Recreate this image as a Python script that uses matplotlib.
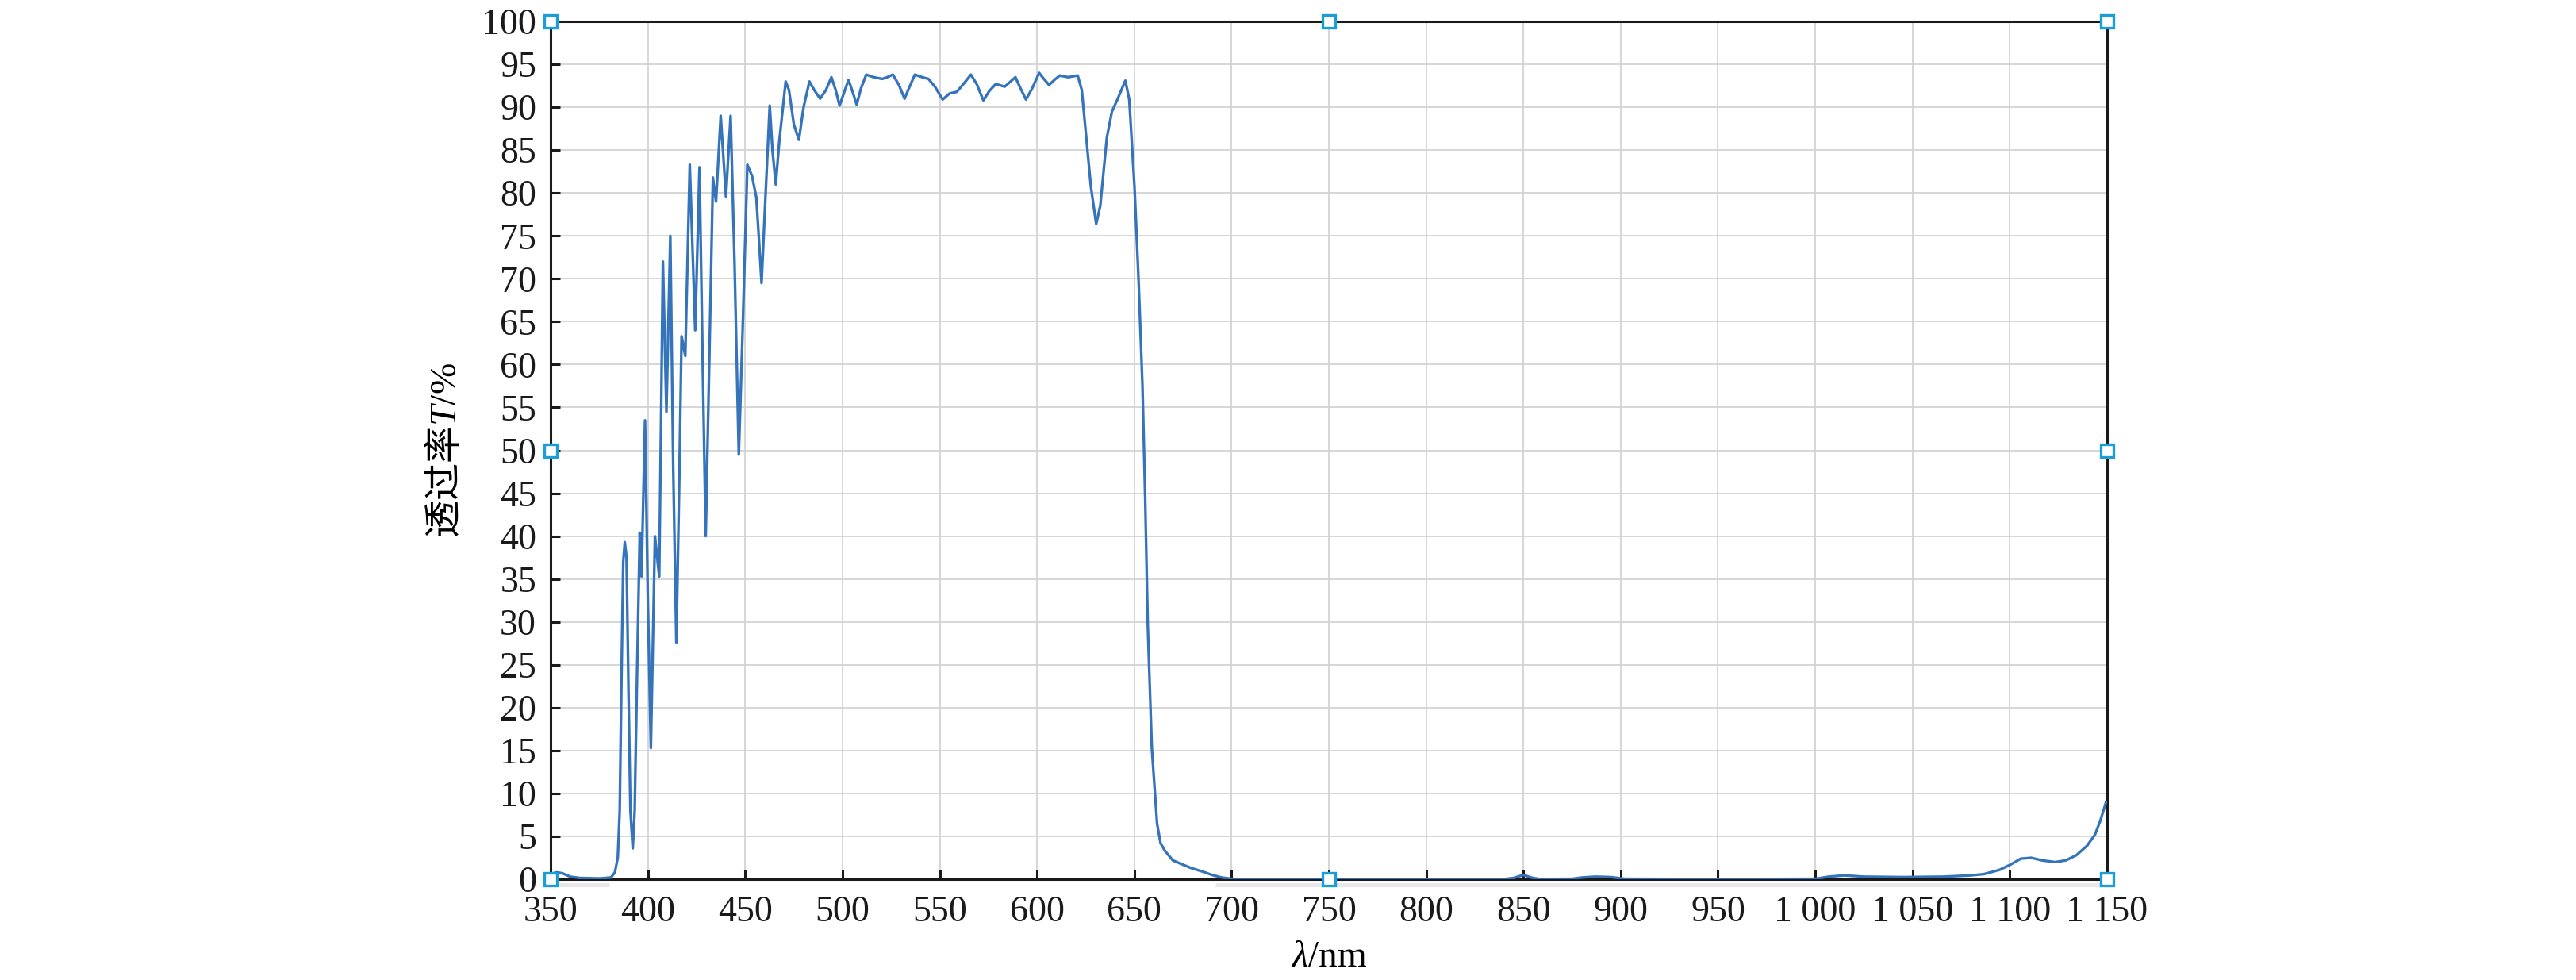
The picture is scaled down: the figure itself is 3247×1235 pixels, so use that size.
import matplotlib
matplotlib.use('Agg')
import matplotlib.pyplot as plt

# spectral transmittance
wavelength = [350, 353, 356, 360, 365, 375, 381, 383, 384.5, 385.5, 386.5, 387.3, 388.1,
              389, 390, 391, 392.2, 393.2, 394.5, 395.8, 396.7, 398.5, 400, 401.5, 402.6,
              403.6, 405.8, 407.7, 409.5, 411.5, 413, 414.6, 416, 417.3, 419.2, 421.5,
              424.3, 426.5, 428, 429.7, 431.5, 433.4, 435, 437.4, 440.1, 442.5, 444.5,
              446.7, 448.8, 451.1, 453.5, 455.7, 457.5, 458.4, 460.5, 462.6, 464, 465.7,
              467.5, 470.8, 472.5, 475, 477.6, 480, 483, 485.5, 488.5, 491.5, 494.3,
              496.5, 498.5, 500.5, 503.1, 505.2, 507.3, 509.5, 512.2, 516, 520.4, 523,
              525.9, 529, 531.9, 534.5, 537.2, 541, 544.2, 547.5, 551.5, 555, 558.8,
              562.5, 566, 569, 572.4, 575.5, 578.8, 583.4, 588.9, 591.5, 594.3, 597.5,
              601.1, 603.5, 606.2, 609, 611.7, 616, 620.9, 623, 625.5, 627.7, 630.4,
              632.5, 635.9, 638.5, 641.3, 645.4, 647.4, 650.1, 652.2, 654.2, 655.6,
              656.9, 659, 661.7, 663.5, 665.8, 669.8, 675, 679.3, 685, 690, 695, 700,
              705, 760, 840, 845, 850, 854, 858, 875, 880, 887, 895, 902, 950, 1000,
              1007, 1015, 1025, 1045, 1066, 1080, 1086.7, 1094.8, 1100.3, 1105.7,
              1111.1, 1116.6, 1123.4, 1128.8, 1134.2, 1139.7, 1143.8, 1146.5, 1149.5]
transmittance = [0.6, 0.8, 0.7, 0.3, 0.15, 0.1, 0.2, 0.8, 2.5, 8, 25, 37, 39.3,
                 37.5, 22, 8, 3.6, 8, 25, 40.4, 35.3, 53.5, 32, 15.3, 28,
                 40, 35.3, 72, 54.5, 75, 48, 27.6, 45, 63.3, 61, 83.3,
                 64, 83, 62, 40, 60, 81.8, 79, 89, 79.6, 89, 72,
                 49.5, 65, 83.3, 82, 79.5, 73, 69.5, 80, 90.2, 85, 81,
                 86, 93, 92, 88, 86.2, 90, 93, 92, 91, 92, 93.5,
                 92, 90.2, 91.5, 93.2, 91.8, 90.3, 92.2, 93.8, 93.5, 93.3, 93.5,
                 93.8, 92.6, 91, 92.4, 93.8, 93.5, 93.3, 92.4, 90.9, 91.6, 91.8,
                 92.8, 93.8, 92.7, 90.8, 91.9, 92.7, 92.4, 93.5, 92.2, 90.9, 92.2,
                 94, 93.3, 92.6, 93.2, 93.7, 93.5, 93.7, 92, 86, 80.7, 76.4,
                 78.5, 86.5, 89.5, 90.9, 93.1, 90.9, 80.7, 69.8, 57.5, 44.4,
                 29.8, 15.3, 6.5, 4.2, 3.3, 2.2, 1.7, 1.3, 0.9, 0.5, 0.2, 0.05,
                 0.02, 0.02, 0.02, 0.15, 0.5, 0.2, 0.03, 0.05, 0.2, 0.3, 0.25, 0.05, 0.02, 0.05,
                 0.3, 0.45, 0.3, 0.25, 0.3, 0.45, 0.6, 1.1, 1.7, 2.4,
                 2.5, 2.2, 2.0, 2.2, 2.8, 3.9, 5.2, 6.8, 9.0]

x_ticks = list(range(350, 1151, 50))
x_tick_labels = ['350', '400', '450', '500', '550', '600', '650', '700', '750', '800',
                 '850', '900', '950', '1 000', '1 050', '1 100', '1 150']
y_ticks = list(range(0, 101, 5))
y_tick_labels = [str(v) for v in y_ticks]

# selection handles shown around the axes box
handle_x = [350, 350, 350, 750, 750, 1150, 1150, 1150]
handle_y = [0, 50, 100, 0, 100, 0, 50, 100]

# faint grey strips just under the x axis
band_segments = [(353.5, 380), (691.5, 1150)]

plt.rcParams['font.family'] = ['Liberation Serif', 'Noto Sans CJK SC']
plt.rcParams['mathtext.fontset'] = 'custom'
plt.rcParams['mathtext.rm'] = 'Noto Sans CJK SC'
plt.rcParams['mathtext.it'] = 'Liberation Serif:italic'
plt.rcParams['mathtext.sf'] = 'Liberation Serif'

fig = plt.figure(figsize=(32.48, 12.35), dpi=100)
ax = fig.add_axes([0.2137, 0.1028, 0.604, 0.8753])

ax.plot(wavelength, transmittance, color='#3574bb', lw=2.4, zorder=3)

for x0, x1 in band_segments:
    ax.plot([x0, x1], [-0.65, -0.65], color='#e8e8e8', lw=3.6,
            solid_capstyle='butt', clip_on=False, zorder=1)

ax.set_xlim(350, 1150)
ax.set_ylim(0, 100)
ax.set_xticks(x_ticks)
ax.set_xticklabels(x_tick_labels)
ax.set_yticks(y_ticks)
ax.set_yticklabels(y_tick_labels)

ax.grid(True, color='#d3d3d3', lw=1.3, zorder=0)
ax.set_axisbelow(True)
ax.tick_params(direction='in', length=8.6, width=2.2, labelsize=33, colors='#1a1a1a')
ax.tick_params(axis='y', pad=13)
ax.tick_params(axis='x', pad=15)
for s in ax.spines.values():
    s.set_linewidth(2.2)
    s.set_color('#1a1a1a')

ax.set_xlabel(r'$\mathit{\lambda}\mathsf{/nm}$', fontsize=34)
ax.xaxis.set_label_coords(0.5, -0.072)
ax.set_ylabel(r'$\mathrm{透过率}\mathit{T}\mathsf{/\%}$', fontsize=34)
ax.yaxis.set_label_coords(-0.0556, 0.5)

ax.plot(handle_x, handle_y, 's', ms=12, mfc='white', mec='#1b9dd8', mew=2.4,
        clip_on=False, zorder=6)

fig.savefig('out.png', dpi=100)
